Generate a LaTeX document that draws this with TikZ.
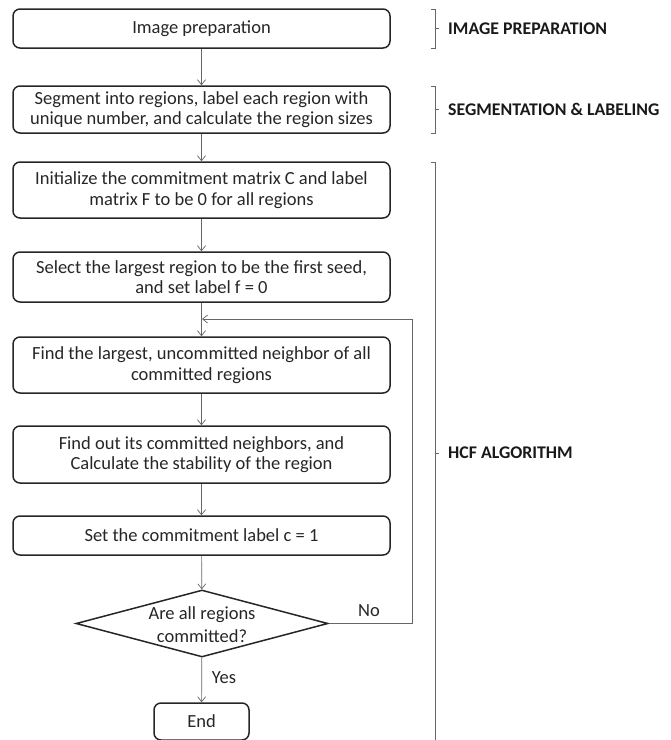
\documentclass[tikz,border=0pt]{standalone}
\usepackage{fontspec}
\setmainfont{Carlito}
\usetikzlibrary{shapes.geometric,arrows.meta}
\begin{document}
\begin{tikzpicture}[x=1pt,y=-1pt,
  procbox/.style={draw=black!85, line width=1.5pt, rounded corners=7pt,
    minimum width=377pt, align=center, inner sep=0pt,
    font=\fontsize{18.5}{20.5}\selectfont, text=black!85},
  flow/.style={draw=black!60, line width=0.7pt, -{Straight Barb[length=5pt,width=8pt]}},
  brk/.style={draw=black!60, line width=0.8pt},
  sect/.style={font=\fontsize{17.8}{20}\selectfont\bfseries, anchor=west, text=black!90, inner sep=0pt},
  lbl/.style={font=\fontsize{18.5}{22}\selectfont, text=black!85, inner sep=0pt}]
\useasboundingbox (0,0) rectangle (671,740);

\node[procbox, minimum height=39pt] (b1) at (201.5,28.5) {Image preparation};
\node[procbox, minimum height=47pt] (b2) at (201.5,109.5) {Segment into regions, label each region with\\unique number, and calculate the region sizes};
\node[procbox, minimum height=56pt] (b3) at (201.5,190) {Initialize the commitment matrix C and label\\matrix F to be 0 for all regions};
\node[procbox, minimum height=50pt] (b4) at (201.5,277) {Select the largest region to be the first seed,\\and set label f = 0};
\node[procbox, minimum height=56pt] (b5) at (201.5,365) {Find the largest, uncommitted neighbor of all\\committed regions};
\node[procbox, minimum height=57pt] (b6) at (201.5,454.5) {Find out its committed neighbors, and\\Calculate the stability of the region};
\node[procbox, minimum height=39pt] (b7) at (201.5,535.5) {Set the commitment label c = 1};
\node[diamond, draw=black!85, line width=1.5pt, minimum width=252pt, minimum height=67pt, inner sep=0pt] (dec) at (202,623.5) {};
\node[lbl, align=center, font=\fontsize{18.5}{23}\selectfont] (dectext) at (202,624.5) {Are all regions\\committed?};
\node[procbox, minimum width=95pt, minimum height=37pt] (endn) at (201.5,721.5) {End};

\draw[flow] (b1) -- (b2);
\draw[flow] (b2) -- (b3);
\draw[flow] (b3) -- (b4);
\draw[flow] (b4) -- (b5);
\draw[flow] (b5) -- (b6);
\draw[flow] (b6) -- (b7);
\draw[flow] (b7) -- (dec);
\draw[flow] (dec) -- (endn);

\coordinate (loopc) at (412,319);
\coordinate (join) at (202,319);
\draw[flow] (dec.east) -| (loopc) -- (join);

\node[lbl] (nolbl) at (369,611) {No};
\node[lbl] (yeslbl) at (224,678) {Yes};

% brackets
\draw[brk] (431,9) -- (435,9) -- (435,48) -- (431,48);
\draw[brk] (435,28.5) -- (439,28.5);
\node[sect] (s1) at (448,28.5) {IMAGE PREPARATION};

\draw[brk] (431,86) -- (435,86) -- (435,133) -- (431,133);
\draw[brk] (435,109.5) -- (439,109.5);
\node[sect] (s2) at (448,109.5) {SEGMENTATION \& LABELING};

\draw[brk] (431,162) -- (435,162) -- (435,742);
\draw[brk] (435,453) -- (439,453);
\node[sect] (s3) at (448,453) {HCF ALGORITHM};
\end{tikzpicture}
\end{document}
